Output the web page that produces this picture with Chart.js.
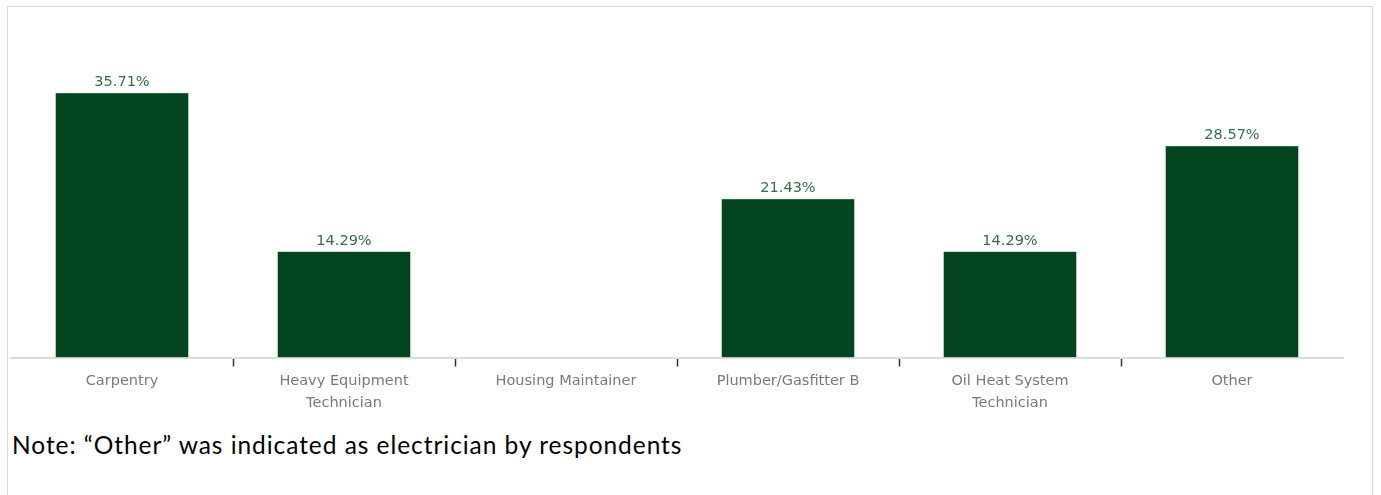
<!DOCTYPE html>
<html>
<head>
<meta charset="utf-8">
<script src="https://cdn.jsdelivr.net/npm/chart.js@4/dist/chart.umd.min.js"></script>
<style>
  html, body { margin: 0; padding: 0; background: #fff; width: 1381px; height: 495px; overflow: hidden; }
  #frame { position: absolute; left: 7px; top: 6px; width: 1366px; height: 500px; border: 1px solid #d9d9d9; box-sizing: border-box; }
  #wrap { position: absolute; left: 0; top: 0; width: 1381px; height: 418px; }
  #note { position: absolute; left: 12px; top: 430px; font-family: Lato, "Open Sans", sans-serif; font-size: 24.5px; line-height: 30px; letter-spacing: 0.95px; color: #000; white-space: nowrap; }
</style>
</head>
<body>
<div id="frame"></div>
<div id="wrap"><canvas id="c"></canvas></div>
<div id="note">Note: “Other” was indicated as electrician by respondents</div>
<script>
const categories = [
  "Carpentry",
  ["Heavy Equipment", "Technician"],
  "Housing Maintainer",
  "Plumber/Gasfitter B",
  ["Oil Heat System", "Technician"],
  "Other"
];
const values = [35.71, 14.29, 0, 21.43, 14.29, 28.57];
const valueLabels = ["35.71%", "14.29%", "", "21.43%", "14.29%", "28.57%"];

const barLabelPlugin = {
  id: 'barLabels',
  afterDatasetsDraw(chart) {
    const ctx = chart.ctx;
    const meta = chart.getDatasetMeta(0);
    ctx.save();
    ctx.font = '14.5px "DejaVu Sans", sans-serif';
    ctx.fillStyle = '#33704a';
    ctx.textAlign = 'center';
    ctx.textBaseline = 'bottom';
    meta.data.forEach((bar, i) => {
      if (!valueLabels[i]) return;
      ctx.fillText(valueLabels[i], bar.x, bar.y - 3);
    });
    ctx.restore();
  }
};

new Chart(document.getElementById('c'), {
  type: 'bar',
  data: {
    labels: categories,
    datasets: [{
      data: values,
      backgroundColor: '#02441e',
      borderColor: '#2b6a44',
      borderWidth: 0.5,
      categoryPercentage: 1.0,
      barPercentage: 0.6
    }]
  },
  options: {
    responsive: true,
    maintainAspectRatio: false,
    animation: false,
    layout: { padding: { left: 11, right: 38, top: 61, bottom: 0 } },
    plugins: { legend: { display: false }, tooltip: { enabled: false } },
    scales: {
      x: {
        grid: {
          offset: true,
          drawOnChartArea: false,
          drawTicks: true,
          tickLength: 9,
          tickWidth: 1.5,
          tickColor: (ctx) => (ctx.type !== 'tick' || ctx.index === 0) ? 'rgba(0,0,0,0)' : '#333'
        },
        border: { display: true, color: '#dcdcdc', width: 2 },
        ticks: {
          color: '#7a7a7a',
          font: { family: '"DejaVu Sans", sans-serif', size: 14.5, lineHeight: 1.5 },
          padding: 4,
          maxRotation: 0,
          autoSkip: false
        }
      },
      y: {
        display: false,
        min: 0,
        max: 40
      }
    }
  },
  plugins: [barLabelPlugin]
});
</script>
</body>
</html>
